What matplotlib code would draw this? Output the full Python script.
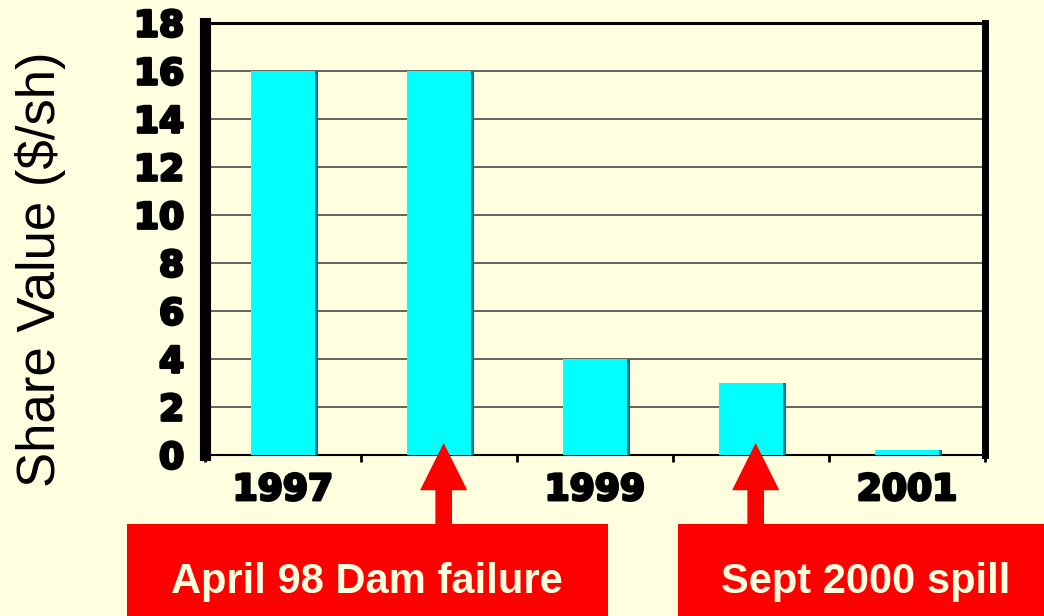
import matplotlib
matplotlib.use('Agg')
import matplotlib.pyplot as plt
from matplotlib.patches import Rectangle
import matplotlib.patheffects as pe
import numpy as np

# ---- data ----
categories = ['1997', '', '1999', '', '2001']
share_values = [16, 16, 4, 3, 0.2]
y_ticks = [0, 2, 4, 6, 8, 10, 12, 14, 16, 18]
y_label = 'Share Value ($/sh)'
event_labels = ['April 98 Dam failure', 'Sept 2000 spill']
event_positions = [1, 3]

bg = '#FFFFE0'
W, H = 1044, 616
fig = plt.figure(figsize=(W / 100, H / 100), dpi=100, facecolor=bg)
ax = fig.add_axes([205 / W, 1 - 455 / H, (985 - 205) / W, (455 - 23) / H])
ax.set_facecolor(bg)

x = np.arange(len(categories))
bw = 0.404
ax.bar(x + 0.02, share_values, width=bw, color='#008080', zorder=3)
ax.bar(x, share_values, width=bw, color='#00FFFF', zorder=4)

ax.set_xlim(-0.5, len(categories) - 0.5)
ax.set_ylim(0, 18)
ax.set_yticks(y_ticks)
ax.set_yticklabels([str(v) for v in y_ticks])
ax.set_xticks(x)
ax.set_xticklabels(categories)
ax.set_xticks(np.arange(-0.5, len(categories), 1), minor=True)

ax.yaxis.grid(True, color='#555555', linewidth=1.3, zorder=1)
ax.set_axisbelow(True)

heavy = [pe.withStroke(linewidth=2.0, foreground='black')]
for lab in ax.get_yticklabels() + ax.get_xticklabels():
    lab.set_fontfamily('DejaVu Sans')
    lab.set_fontweight('bold')
    lab.set_fontsize(26)
    lab.set_path_effects(heavy)
ax.tick_params(axis='y', length=0, pad=15)
ax.tick_params(axis='x', which='major', length=0, pad=13)
ax.tick_params(axis='x', which='minor', length=5, width=2, direction='out', color='black')

ax.spines['left'].set_linewidth(8)
ax.spines['right'].set_linewidth(5)
ax.spines['top'].set_linewidth(2.2)
ax.spines['bottom'].set_linewidth(1.5)
for s in ax.spines.values():
    s.set_color('black')

fig.text(41 / W, 1 - 269 / H, y_label, rotation=90, ha='center', va='center',
         fontsize=38, family='Liberation Sans', color='black')

# event boxes
boxes = [(127, 608), (678, 1044)]
text_cx = [367, 866]
for (x0, x1), cx, label in zip(boxes, text_cx, event_labels):
    fig.patches.append(Rectangle((x0 / W, 0), (x1 - x0) / W, 92 / H,
                                 transform=fig.transFigure, facecolor='#FF0000',
                                 edgecolor='none', zorder=2))
    fig.text(cx / W, 1 - 593 / H, label, ha='center', va='baseline',
             fontsize=30, fontweight='bold', family='Liberation Sans',
             color=bg, zorder=5)

for pos in event_positions:
    ax.annotate('', xy=(pos + 0.03, 0.5), xycoords='data',
                xytext=(pos + 0.03, 0.12), textcoords=('data', 'figure fraction'),
                arrowprops=dict(arrowstyle='simple,head_length=34,head_width=34,tail_width=12',
                                mutation_scale=1, color='#FF0000', shrinkA=0, shrinkB=0,
                                linewidth=0),
                annotation_clip=False, zorder=6)

fig.savefig('out.png', dpi=100, facecolor=bg)
